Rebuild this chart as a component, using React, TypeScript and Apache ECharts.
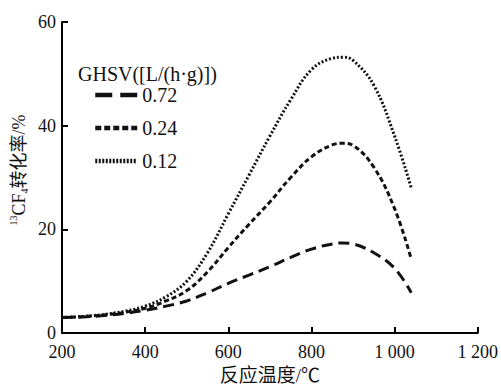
import React, { useEffect, useRef } from "react";
import * as echarts from "echarts";

const temps = [200, 250, 300, 350, 400, 450, 500, 550, 600, 650, 700, 750, 800, 850, 875, 900, 950, 1000, 1040];
const ghsv072 = [3.0, 3.1, 3.4, 3.8, 4.4, 5.2, 6.2, 7.8, 9.6, 11.2, 12.8, 14.6, 16.2, 17.2, 17.4, 17.2, 15.5, 12.5, 7.8];
const ghsv024 = [3.0, 3.2, 3.5, 4.0, 4.8, 6.2, 8.2, 11.8, 16.5, 21.0, 25.3, 30.0, 34.0, 36.3, 36.6, 36.2, 32.0, 24.0, 14.3];
const ghsv012 = [3.0, 3.2, 3.6, 4.2, 5.2, 7.0, 10.0, 15.5, 23.0, 30.5, 38.0, 45.0, 50.8, 53.0, 53.2, 52.6, 47.8, 38.0, 28.0];
const seriesNames = ["0.72", "0.24", "0.12"];
const legendTitle = "GHSV([L/(h·g)])";
const xName = "反应温度/℃";
const yName = "{sup|13}{n|CF}{sub|4}{n|转化率/%}";

const serif = "Liberation Serif, Times New Roman, Noto Sans CJK SC, serif";

export default function App() {
  const ref = useRef<HTMLDivElement>(null);
  useEffect(() => {
    if (!ref.current) return;
    const chart = echarts.init(ref.current, null, { renderer: "svg" });
    const pair = (ys: number[]) => temps.map((t, i) => [t, ys[i]]);
    const dashes = [[11, 6], [5, 3], [2, 2]];
    const legendDashes = [[17, 8], [6, 3], [2, 1.5]];
    const data = [ghsv072, ghsv024, ghsv012];
    chart.setOption({
      animation: false,
      backgroundColor: "#fff",
      grid: { left: 62, right: 20, top: 22, bottom: 49, containLabel: false },
      graphic: [
        {
          type: "text",
          x: 19,
          y: 170,
          rotation: Math.PI / 2,
          style: {
            text: yName,
            align: "center",
            verticalAlign: "middle",
            fill: "#111",
            fontFamily: serif,
            rich: {
              n: { fontFamily: serif, fontSize: 18, fill: "#111" },
              sup: { fontFamily: serif, fontSize: 10, fill: "#111", verticalAlign: "top", lineHeight: 21 },
              sub: { fontFamily: serif, fontSize: 10, fill: "#111", verticalAlign: "bottom", lineHeight: 15 },
            },
          },
        },
      ],
      title: {
        text: legendTitle,
        left: 73,
        top: 59,
        textStyle: { fontFamily: serif, fontSize: 20, fontWeight: "normal", color: "#111" },
      },
      legend: {
        orient: "vertical",
        left: 88,
        top: 80,
        itemWidth: 42,
        itemHeight: 14,
        itemGap: 13,
        textStyle: { fontFamily: serif, fontSize: 20, color: "#111" },
        itemStyle: { color: "rgba(0,0,0,0)", borderWidth: 0, opacity: 0 },
        data: seriesNames.map((name, i) => ({
          name,
          lineStyle: { width: 4.5, color: "#111", type: legendDashes[i] },
        })),
      },
      xAxis: {
        type: "value",
        min: 200,
        max: 1200,
        interval: 200,
        name: xName,
        nameLocation: "middle",
        nameGap: 31,
        nameTextStyle: { fontFamily: serif, fontSize: 19, color: "#111" },
        axisLine: { show: true, lineStyle: { color: "#000", width: 2 } },
        axisTick: { show: true, inside: true, length: 6, lineStyle: { color: "#000", width: 2 } },
        axisLabel: {
          fontFamily: serif,
          fontSize: 18,
          lineHeight: 16,
          color: "#111",
          margin: 11,
          formatter: (v: number) => (v >= 1000 ? String(v).replace(/^(\d)(\d{3})$/, "$1 $2") : String(v)),
        },
        splitLine: { show: false },
      },
      yAxis: {
        type: "value",
        min: 0,
        max: 60,
        interval: 20,
        axisLine: { show: true, lineStyle: { color: "#000", width: 2 } },
        axisTick: { show: true, inside: true, length: 6, lineStyle: { color: "#000", width: 2 } },
        axisLabel: { fontFamily: serif, fontSize: 18, lineHeight: 14, padding: [0, 0, 4, 0], color: "#111", margin: 6 },
        splitLine: { show: false },
      },
      series: seriesNames.map((name, i) => ({
        name,
        type: "line",
        data: pair(data[i]),
        smooth: 0.4,
        showSymbol: false,
        symbol: "none",
        lineStyle: { color: "#111", width: 3, type: dashes[i] },
        itemStyle: { color: "#111" },
      })),
    });
    return () => chart.dispose();
  }, []);
  return <div ref={ref} style={{ width: 501, height: 390, position: "absolute", left: 0, top: 0 }} />;
}
